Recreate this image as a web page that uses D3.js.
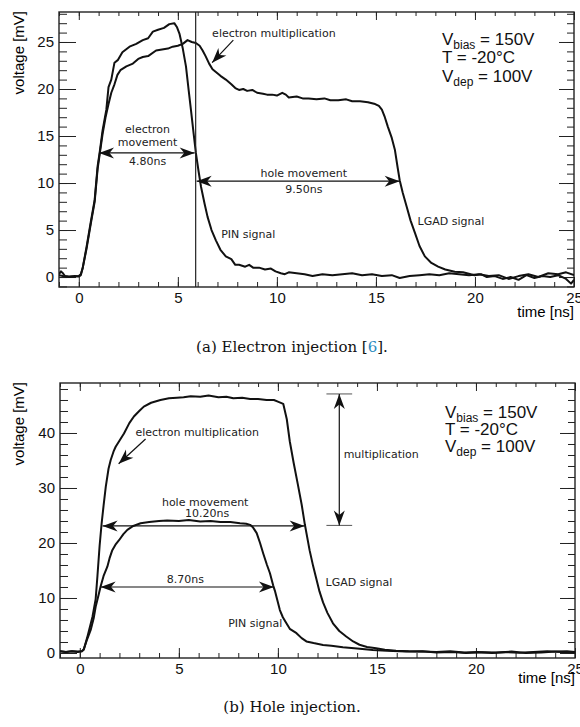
<!DOCTYPE html>
<html>
<head>
<meta charset="utf-8">
<script src="https://cdn.jsdelivr.net/npm/d3@7"></script>
<style>
  body { margin: 0; background: #fff; }
  .tick text { font-family: "Liberation Sans", Arial, sans-serif; font-size: 15px; fill: #111; }
  .ann { font-family: "DejaVu Sans", sans-serif; font-size: 11px; fill: #222; }
</style>
</head>
<body>
<svg id="fig" width="580" height="727"></svg>
<script>
// ---- data: [time ns, voltage mV] ----
var topPin = [[-1,0.3],[-0.9,0.6],[-0.8,0.4],[-0.7,0.1],[-0.5,0.05],[-0.2,0.1],[0,0.05],[0.1,0.2],[0.2,1.0],
  [0.39,3.2],[0.6,5.8],[0.8,8.2],[0.95,11.8],[1.05,13.2],[1.2,15.6],[1.39,17.8],[1.5,20.2],[1.64,21.0],[1.8,22.8],
  [1.98,23.1],[2.2,23.9],[2.56,24.5],[2.9,24.8],[3.23,25.2],[3.5,25.4],[3.74,26.1],[4.0,26.3],[4.3,26.5],[4.57,26.9],
  [4.82,27.0],[4.95,26.6],[5.08,25.9],[5.25,24.3],[5.41,22.4],[5.55,19.8],[5.66,17.8],[5.8,15.2],[5.91,13.2],
  [6.05,11.2],[6.17,9.6],[6.35,7.8],[6.5,6.4],[6.7,5.0],[6.92,3.9],[7.15,2.9],[7.42,2.2],[7.7,1.9],[7.9,1.3],
  [8.09,1.3],[8.4,1.1],[8.6,1.3],[8.8,1.0],[9.1,1.0],[9.4,0.8],[9.7,0.9],[9.93,0.6],[10.2,0.4],[10.4,0.3],[10.6,0.5],
  [11.0,0.4],[11.4,0.3],[11.8,0.1],[12.3,0.3],[12.8,0.2],[13.3,0.3],[13.8,0.4],[14.3,0.2],[14.8,0.3],[15.3,0.1],
  [15.8,0.2],[16.2,-0.1],[16.7,0.1],[17.2,0.2],[17.7,0.3],[18.2,0.2],[18.7,0.4],[19.2,0.3],[19.7,0.2],[20.2,0.3],
  [20.7,0.1],[21.2,0.2],[21.7,-0.2],[22.2,0.1],[22.7,0.3],[23.2,0.0],[23.7,0.4],[24.2,0.3],[24.6,0.5],[25,0.2]];

var topLgad = [[-1,0.2],[-0.8,0.1],[-0.5,0.0],[-0.2,0.05],[0,0.1],[0.1,0.3],[0.2,1.0],[0.39,3.0],[0.6,5.6],
  [0.8,8.0],[0.95,11.5],[1.05,13.0],[1.2,15.2],[1.35,17.0],[1.5,18.4],[1.64,19.6],[1.8,20.5],[1.95,21.5],[2.1,22.0],
  [2.4,22.4],[2.73,22.7],[3.0,23.2],[3.23,23.4],[3.5,23.5],[3.9,24.1],[4.2,24.2],[4.5,24.3],[4.74,24.5],[5.0,24.6],
  [5.25,24.8],[5.49,25.2],[5.7,25.0],[5.91,24.9],[6.1,24.6],[6.25,24.1],[6.4,23.5],[6.58,22.7],[6.75,22.1],
  [6.92,21.8],[7.15,21.4],[7.42,21.0],[7.7,20.5],[7.9,20.1],[8.09,19.9],[8.3,20.0],[8.5,19.8],[8.76,19.9],[9.0,19.6],
  [9.3,19.5],[9.5,19.4],[9.76,19.4],[10.0,19.3],[10.27,19.6],[10.45,19.4],[10.6,19.1],[11.0,19.2],[11.3,19.0],
  [11.6,19.0],[12.0,18.9],[12.4,19.0],[12.7,18.8],[13.1,18.8],[13.5,18.9],[13.8,18.7],[14.2,18.7],[14.6,18.6],
  [14.96,18.4],[15.15,18.2],[15.3,17.8],[15.45,17.0],[15.6,16.0],[15.8,14.8],[15.96,13.5],[16.1,11.6],[16.2,10.3],
  [16.35,9.0],[16.55,7.5],[16.75,6.0],[16.97,4.7],[17.2,3.3],[17.47,2.2],[17.8,1.5],[18.14,1.1],[18.5,0.8],
  [18.98,0.56],[19.4,0.5],[19.98,0.2],[20.3,0.3],[20.6,0.0],[21.0,0.1],[21.4,-0.2],[21.8,0.0],[22.2,-0.3],
  [22.6,0.2],[23.0,-0.1],[23.4,0.1],[23.8,0.0],[24.2,0.2],[24.6,-0.2],[24.85,-0.7],[25,-0.3]];

var botLgad = [[-1,0.3],[-0.7,0.2],[-0.4,0.3],[-0.1,0.2],[0.1,0.3],[0.2,0.6],[0.4,3.2],[0.64,6.6],[0.8,9.8],
  [0.89,14.0],[1.0,19.5],[1.1,23.5],[1.2,26.8],[1.31,30.2],[1.45,33.5],[1.56,35.1],[1.7,36.6],[1.81,37.5],
  [2.0,38.6],[2.23,39.9],[2.5,41.8],[2.73,43.0],[3.0,44.0],[3.23,44.8],[3.6,45.5],[4.07,46.0],[4.5,46.3],[4.9,46.4],
  [5.24,46.5],[5.6,46.7],[6.08,46.6],[6.5,46.8],[7.0,46.5],[7.4,46.6],[7.75,46.3],[8.2,46.4],[8.6,46.2],[9.0,46.2],
  [9.43,46.0],[9.8,46.0],[10.0,45.7],[10.27,45.3],[10.45,42.5],[10.6,38.5],[10.8,34.5],[11.0,30.8],[11.2,27.0],
  [11.36,23.4],[11.6,18.7],[11.78,15.8],[11.94,13.5],[12.1,11.2],[12.28,9.2],[12.5,7.3],[12.78,5.4],[13.1,4.0],
  [13.45,3.0],[13.8,2.1],[14.12,1.5],[14.5,1.1],[14.96,0.85],[15.4,0.6],[15.96,0.4],[16.6,0.3],[17.3,0.25],
  [18,0.2],[18.7,0.3],[19.4,0.1],[20.1,0.2],[20.8,0.0],[21.5,0.15],[22.2,0.05],[22.9,0.2],[23.6,0.3],[24.3,0.2],[25,0.1]];

var botPin = [[-1,0.3],[-0.7,0.2],[-0.4,0.3],[-0.1,0.25],[0.1,0.3],[0.2,0.7],[0.35,2.3],[0.55,4.2],[0.7,6.3],
  [0.8,8.4],[0.95,10.6],[1.05,12.1],[1.2,14.0],[1.39,15.7],[1.5,17.2],[1.64,18.7],[1.8,19.7],[1.98,20.5],[2.2,21.6],
  [2.4,22.4],[2.7,23.1],[3.07,23.6],[3.5,23.8],[4.0,24.0],[4.41,24.1],[5.0,24.0],[5.5,24.2],[6.08,23.9],[6.6,24.0],
  [7.1,23.8],[7.6,23.8],[8.09,23.6],[8.4,23.5],[8.6,23.3],[8.75,22.8],[8.93,21.8],[9.1,20.0],[9.26,18.1],[9.45,16.0],
  [9.6,14.5],[9.76,12.3],[9.85,11.3],[10.1,7.8],[10.25,6.5],[10.43,5.4],[10.6,4.4],[10.94,3.6],[11.2,2.7],
  [11.44,2.1],[11.8,1.8],[12.28,1.45],[12.7,1.3],[13.28,1.03],[14.0,0.8],[14.79,0.55],[15.5,0.4],[16.47,0.25],
  [17.3,0.3],[18.0,0.1],[18.8,0.2],[19.5,0.0],[20.3,0.15],[21.0,0.1],[21.8,0.25],[22.5,0.0],[23.3,0.1],[24.0,0.25],
  [24.6,0.3],[25,0.2]];

// tick values
var xMajor = [0, 5, 10, 15, 20, 25];
var xMinor = d3.range(-1, 26, 1);
var topYMajor = [0, 5, 10, 15, 20, 25];
var topYMinor = d3.range(-1, 29, 1);
var botYMajor = [0, 10, 20, 30, 40];
var botYMinor = d3.range(0, 50, 2);

var svg = d3.select("#fig");

// notched arrow head, tip at (x,y), pointing along angle (deg)
function arrowHead(g, x, y, angle) {
  g.append("path")
    .attr("d", "M0,0 L-15,-5.5 L-10.5,0 L-15,5.5 Z")
    .attr("transform", `translate(${x},${y}) rotate(${angle})`)
    .attr("fill", "#111");
}

function drawPanel(p) {
  var x = d3.scaleLinear().domain([-1, 25]).range([p.left, p.right]);
  var y = d3.scaleLinear().domain(p.yDomain).range([p.bottom, p.top]);
  var g = svg.append("g");

  var clipId = "clip" + p.id;
  svg.append("clipPath").attr("id", clipId)
    .append("rect")
    .attr("x", p.left).attr("y", p.top)
    .attr("width", p.right - p.left).attr("height", p.bottom - p.top);

  // axes, ROOT style: ticks pointing inwards on all four sides
  function ax(axis, tr, vals, len, labels, pad) {
    var a = axis.tickValues(vals).tickSize(-len).tickPadding(pad || 3);
    if (!labels) a.tickFormat("");
    var sel = g.append("g").attr("transform", tr).call(a);
    sel.select(".domain").remove();
    sel.selectAll("line").attr("stroke", "#222");
    return sel;
  }
  ax(d3.axisBottom(x), `translate(0,${p.bottom})`, xMinor, 5, false);
  ax(d3.axisBottom(x), `translate(0,${p.bottom})`, xMajor, 10, true, 5);
  ax(d3.axisTop(x), `translate(0,${p.top})`, xMinor, 4, false);
  ax(d3.axisTop(x), `translate(0,${p.top})`, xMajor, 8, false);
  ax(d3.axisLeft(y), `translate(${p.left},0)`, p.yMinor, 8, false);
  ax(d3.axisLeft(y), `translate(${p.left},0)`, p.yMajor, 17, true, 5)
    .selectAll("text").attr("x", -5);
  ax(d3.axisRight(y), `translate(${p.right},0)`, p.yMinor, 7, false);
  ax(d3.axisRight(y), `translate(${p.right},0)`, p.yMajor, 15, false);

  g.append("rect")
    .attr("x", p.left).attr("y", p.top)
    .attr("width", p.right - p.left).attr("height", p.bottom - p.top)
    .attr("fill", "none").attr("stroke", "#222").attr("stroke-width", 1.4);

  // axis titles
  g.append("text")
    .attr("x", p.right).attr("y", p.bottom + p.xTitleGap)
    .attr("text-anchor", "end")
    .style("font-family", "Liberation Sans, Arial, sans-serif").style("font-size", "15px")
    .text("time [ns]");
  g.append("text")
    .attr("transform", `translate(24,${p.top - 1}) rotate(-90)`)
    .attr("text-anchor", "end")
    .style("font-family", "Liberation Sans, Arial, sans-serif").style("font-size", "15px")
    .text("voltage [mV]");

  // traces
  var line = d3.line().x(d => x(d[0])).y(d => y(d[1]));
  p.series.forEach(function(s) {
    g.append("path")
      .datum(s)
      .attr("clip-path", `url(#${clipId})`)
      .attr("d", line)
      .attr("fill", "none")
      .attr("stroke", "#111")
      .attr("stroke-width", 2)
      .attr("stroke-linejoin", "round");
  });

  // legend box text
  var lg = g.append("g")
    .style("font-family", "Liberation Sans, Arial, sans-serif").style("font-size", "17px").attr("fill", "#111");
  function sub(yy, main, s, rest) {
    var t = lg.append("text").attr("x", p.legX).attr("y", yy);
    t.append("tspan").text(main);
    if (s) t.append("tspan").attr("dy", 4).style("font-size", "12px").text(s);
    t.append("tspan").attr("dy", s ? -4 : 0).text(rest);
  }
  sub(p.legY[0], "V", "bias", " = 150V");
  sub(p.legY[1], "T = -20°C", null, "");
  sub(p.legY[2], "V", "dep", " = 100V");

  return {g: g, x: x, y: y};
}

function label(P, t, v, txt, anchor) {
  P.g.append("text").attr("class", "ann")
    .attr("x", P.x(t)).attr("y", P.y(v))
    .attr("text-anchor", anchor || "start")
    .text(txt);
}
function hArrow(P, t1, t2, v) {
  var y = P.y(v);
  P.g.append("line").attr("x1", P.x(t1)).attr("x2", P.x(t2)).attr("y1", y).attr("y2", y)
    .attr("stroke", "#111").attr("stroke-width", 1.2);
  arrowHead(P.g, P.x(t1), y, 180);
  arrowHead(P.g, P.x(t2), y, 0);
}
function slantArrow(P, t1, v1, t2, v2) {
  var x1 = P.x(t1), y1 = P.y(v1), x2 = P.x(t2), y2 = P.y(v2);
  P.g.append("line").attr("x1", x1).attr("y1", y1).attr("x2", x2).attr("y2", y2)
    .attr("stroke", "#111").attr("stroke-width", 1.2);
  arrowHead(P.g, x2, y2, Math.atan2(y2 - y1, x2 - x1) * 180 / Math.PI);
}

// ---- panel (a) ----
var A = drawPanel({
  id: "a", left: 59, right: 574, top: 12, bottom: 287,
  yDomain: [-1.06, 28.19], yMajor: topYMajor, yMinor: topYMinor,
  xTitleGap: 30, legX: 442, legY: [45, 63, 82],
  series: [topPin, topLgad]
});
A.g.append("line")
  .attr("x1", A.x(5.9)).attr("x2", A.x(5.9)).attr("y1", 12).attr("y2", 287)
  .attr("stroke", "#222").attr("stroke-width", 1.2);
label(A, 6.73, 25.5, "electron multiplication");
slantArrow(A, 7.8, 25.2, 6.73, 22.8);
label(A, 3.47, 15.3, "electron", "middle");
label(A, 3.47, 13.9, "movement", "middle");
label(A, 3.47, 11.9, "4.80ns", "middle");
hArrow(A, 1.02, 5.85, 13.2);
label(A, 11.36, 10.6, "hole movement", "middle");
label(A, 11.36, 8.9, "9.50ns", "middle");
hArrow(A, 5.95, 16.2, 10.2);
label(A, 7.19, 4.15, "PIN signal");
label(A, 17.1, 5.5, "LGAD signal");

// ---- panel (b) ----
var B = drawPanel({
  id: "b", left: 60, right: 575, top: 383, bottom: 658,
  yDomain: [-0.91, 49.09], yMajor: botYMajor, yMinor: botYMinor,
  xTitleGap: 25, legX: 445, legY: [418, 435, 452],
  series: [botPin, botLgad]
});
label(B, 2.81, 39.5, "electron multiplication");
slantArrow(B, 3.32, 38.9, 1.96, 34.4);
label(B, 6.33, 26.7, "hole movement", "middle");
label(B, 6.43, 24.7, "10.20ns", "middle");
hArrow(B, 1.15, 11.35, 23.1);
label(B, 5.33, 12.7, "8.70ns", "middle");
hArrow(B, 1.05, 9.8, 12.0);
// multiplication span
[23.2, 47.1].forEach(function(v) {
  B.g.append("line").attr("x1", B.x(12.45)).attr("x2", B.x(13.75)).attr("y1", B.y(v)).attr("y2", B.y(v))
    .attr("stroke", "#555").attr("stroke-width", 1);
});
B.g.append("line").attr("x1", B.x(13.1)).attr("x2", B.x(13.1)).attr("y1", B.y(23.2)).attr("y2", B.y(47.1))
  .attr("stroke", "#111").attr("stroke-width", 1.2);
arrowHead(B.g, B.x(13.1), B.y(47.1), -90);
arrowHead(B.g, B.x(13.1), B.y(23.2), 90);
label(B, 13.32, 35.5, "multiplication");
label(B, 12.41, 12.2, "LGAD signal");
label(B, 7.49, 4.7, "PIN signal");

// ---- captions ----
var capA = svg.append("text").attr("x", 292).attr("y", 352).attr("text-anchor", "middle")
  .style("font-family", "DejaVu Serif, serif").style("font-size", "15px").attr("fill", "#111");
capA.append("tspan").text("(a) Electron injection [");
capA.append("tspan").attr("fill", "#2b8cbe").text("6");
capA.append("tspan").text("].");
svg.append("text").attr("x", 292).attr("y", 712).attr("text-anchor", "middle")
  .style("font-family", "DejaVu Serif, serif").style("font-size", "15px").attr("fill", "#111")
  .text("(b) Hole injection.");
</script>
</body>
</html>
